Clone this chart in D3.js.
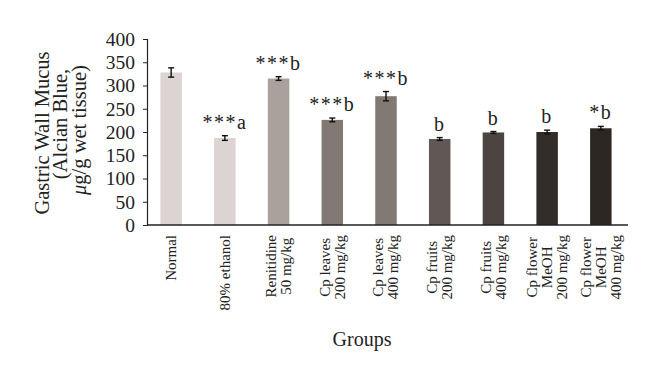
<!DOCTYPE html>
<html><head><meta charset="utf-8">
<script src="https://cdn.jsdelivr.net/npm/d3@7"></script>
<style>body{margin:0;background:#fff}svg{display:block;font-family:"Liberation Serif","DejaVu Serif",serif}</style>
</head><body>
<script>
const categories = ["Normal","80% ethanol","Renitidine 50 mg/kg","Cp leaves 200 mg/kg","Cp leaves 400 mg/kg","Cp fruits 200 mg/kg","Cp fruits 400 mg/kg","Cp flower MeOH 200 mg/kg","Cp flower MeOH 400 mg/kg"];
const labelLines = [["Normal"],["80% ethanol"],["Renitidine","50 mg/kg"],["Cp leaves","200 mg/kg"],["Cp leaves","400 mg/kg"],["Cp fruits","200 mg/kg"],["Cp fruits","400 mg/kg"],["Cp flower","MeOH","200 mg/kg"],["Cp flower","MeOH","400 mg/kg"]];
const values = [328, 187, 315, 226, 277, 185, 199, 200, 208];
const errors = [10, 5, 4, 4, 10, 3, 2, 4, 4];
const annotations = ["", "***a", "***b", "***b", "***b", "b", "b", "b", "*b"];
const colors = ["#dbd4d2","#dbd4d2","#aba19c","#827874","#827874","#615855","#4c4441","#332d29","#2c2722"];
const yTicks = [0,50,100,150,200,250,300,350,400];

const W = 660, H = 379;
const svg = d3.select("body").append("svg").attr("width", W).attr("height", H);
svg.append("rect").attr("width", W).attr("height", H).attr("fill", "#fff");

const y = d3.scaleLinear().domain([0, 400]).range([225, 39]);
const x = d3.scaleBand().domain(categories).range([147, 625]).paddingInner(0.6).paddingOuter(0.25);

// Y axis
const yAxis = svg.append("g").attr("transform", "translate(147,0)")
  .call(d3.axisLeft(y).tickValues(yTicks).tickSize(4).tickPadding(8));
yAxis.select(".domain").attr("stroke", "#222").attr("stroke-width", 1.2);
yAxis.selectAll(".tick line").attr("stroke", "#222");
yAxis.selectAll(".tick text").attr("font-family", "Liberation Serif, serif").attr("font-size", 19.5).attr("fill", "#222");

// Bars
svg.append("g").selectAll("rect").data(categories).join("rect")
  .attr("x", d => x(d)).attr("width", x.bandwidth())
  .attr("y", (d, i) => y(values[i])).attr("height", (d, i) => y(0) - y(values[i]))
  .attr("fill", (d, i) => colors[i]);

// Error bars
const eb = svg.append("g").attr("stroke", "#111").attr("stroke-width", 1.4);
categories.forEach((c, i) => {
  const cx = x(c) + x.bandwidth() / 2;
  const hi = y(values[i] + errors[i]), lo = y(values[i] - errors[i]);
  eb.append("line").attr("x1", cx).attr("x2", cx).attr("y1", hi).attr("y2", lo);
  eb.append("line").attr("x1", cx - 3).attr("x2", cx + 3).attr("y1", hi).attr("y2", hi);
  eb.append("line").attr("x1", cx - 3).attr("x2", cx + 3).attr("y1", lo).attr("y2", lo);
});

// X axis line
svg.append("line").attr("x1", 147).attr("x2", 628).attr("y1", y(0)).attr("y2", y(0))
  .attr("stroke", "#222").attr("stroke-width", 1.5);

// Annotations
svg.append("g").selectAll("text").data(categories).join("text")
  .attr("x", d => x(d) + x.bandwidth() / 2)
  .attr("y", (d, i) => y(values[i] + errors[i]) - 7)
  .attr("text-anchor", "middle").attr("font-size", 20).attr("letter-spacing", 1.5)
  .attr("fill", "#222")
  .text((d, i) => annotations[i]);

// X labels
const lh = 15;
categories.forEach((c, i) => {
  const cx = x(c) + x.bandwidth() / 2;
  const lines = labelLines[i];
  const g = svg.append("g").attr("transform", `translate(${cx},0) rotate(-90)`);
  const t = g.append("text").attr("font-size", 15).attr("fill", "#222").attr("text-anchor", "middle");
  const ts = lines.map((l, k) => t.append("tspan").attr("y", (k - (lines.length - 1) / 2) * lh).attr("dy", "0.33em").text(l));
  const maxW = d3.max(ts, s => s.node().getComputedTextLength());
  ts.forEach(s => s.attr("x", -(235 + maxW / 2)));
});

// Y title
const yTitle = [["Gastric Wall Mucus", 133], ["(Alcian Blue,", 124], ["\u03BCg/g wet tissue)", 130]];
yTitle.forEach((l, k) => {
  const t = svg.append("text").attr("transform", `translate(${42 + k * 18.5},${l[1]}) rotate(-90)`)
    .attr("text-anchor", "middle").attr("dy", "0.33em").attr("font-size", 20.5).attr("fill", "#222");
  if (k === 2) {
    t.append("tspan").attr("font-style", "italic").text("\u03BC");
    t.append("tspan").text("g/g wet tissue)");
  } else t.text(l[0]);
});

// X title
svg.append("text").attr("x", 362).attr("y", 346).attr("text-anchor", "middle")
  .attr("font-size", 20).attr("fill", "#222").text("Groups");
</script>
</body></html>
